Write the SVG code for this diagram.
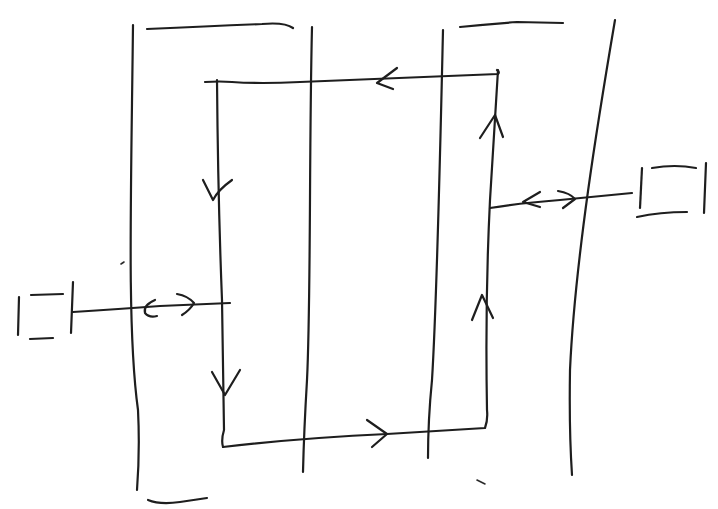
<svg xmlns="http://www.w3.org/2000/svg" width="718" height="509" viewBox="0 0 718 509">
<style>
.s{fill:none;stroke:#1e1e1e;stroke-width:2.2;stroke-linecap:round;stroke-linejoin:round}
.t{fill:none;stroke:#2a2a2a;stroke-width:1.6;stroke-linecap:round;stroke-linejoin:round}
</style>
<rect width="718" height="509" fill="#ffffff"/>
<g id="left-pipe">
<path class="s" d="M133,25 C131,200 127,330 138,410 Q140,450 137,490"/>
<path class="s" d="M147,29 Q210,26 262,24 Q285,22 293,28"/>
<path class="s" d="M312,27 C309,150 311,300 307,380 Q304,430 303,472"/>
<path class="s" d="M148,500 Q160,505 180,502 L207,498"/>
<path class="t" d="M121,264 L124,262"/>
</g>
<g id="right-pipe">
<path class="s" d="M443,30 C440,160 437,300 432,380 Q428,420 428,458"/>
<path class="s" d="M460,27 Q490,24 517,22 L563,23"/>
<path class="s" d="M615,20 C598,120 575,260 570,370 Q569,430 572,475"/>
<path class="t" d="M477,480 L485,484"/>
</g>
<g id="left-box">
<path class="s" d="M19,297 L18,335"/>
<path class="s" d="M31,295 L63,294"/>
<path class="s" d="M30,339 L53,338"/>
<path class="s" d="M73,282 L71,333"/>
</g>
<g id="right-box">
<path class="s" d="M642,168 L640,208"/>
<path class="s" d="M652,168 Q675,164 696,168"/>
<path class="s" d="M706,163 L704,213"/>
<path class="s" d="M637,217 Q660,212 687,212"/>
</g>
<g id="connectors">
<path class="s" d="M205,82 Q220,81 232,82 Q260,84 300,82 L498,74 Q500,72 497,70"/>
<path class="s" d="M397,68 L377,83 L393,89"/>
<path class="s" d="M217,80 Q218,200 222,300 L224,430 Q221,440 223,447"/>
<path class="s" d="M203,180 L213,200 Q218,190 232,180"/>
<path class="s" d="M212,372 L225,395 L240,370"/>
<path class="s" d="M223,447 Q300,438 387,434 L485,428 Q488,420 487,410"/>
<path class="s" d="M367,420 L387,434 L372,447"/>
<path class="s" d="M487,410 Q485,300 490,200 Q495,120 498,70"/>
<path class="s" d="M480,138 L495,115 L503,137"/>
<path class="s" d="M472,320 L482,295 L493,318"/>
<path class="s" d="M73,312 Q120,309 160,306 L230,303"/>
<path class="s" d="M155,300 Q143,305 145,313 Q149,318 157,316"/>
<path class="s" d="M177,294 Q188,296 194,303 Q190,310 182,315"/>
<path class="s" d="M490,208 Q520,203 560,200 L632,193"/>
<path class="s" d="M540,192 L523,202 L540,207"/>
<path class="s" d="M558,191 Q570,193 575,199 L563,208"/>
</g>
</svg>
